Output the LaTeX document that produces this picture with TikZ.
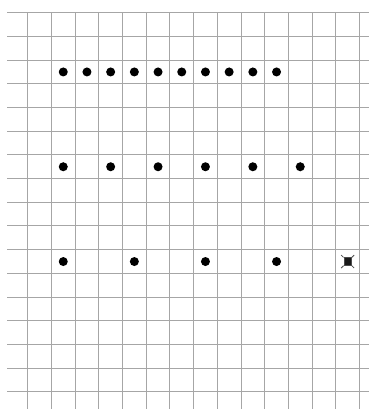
\documentclass[tikz,border=0pt]{standalone}
\usepackage{tikz}
\usetikzlibrary{shapes}
\usepackage{xcolor}

\begin{document}
\begin{tikzpicture}[x=0.5cm, y=0.5cm]
\tikzstyle{gridline} = [draw=black!35, line width=0.6pt]
\tikzstyle{dot} = [circle, fill=black, inner sep=0pt, minimum size=0.19cm]
\tikzstyle{marker} = [rectangle, fill=black!90, draw=black!70, inner sep=0pt, minimum size=0.16cm]

\useasboundingbox [fill=white] (-1.169,0.536) rectangle (14.401,-16.722);
\draw [gridline, step=1] (-0.873,0) grid (14.401,-16.722);

% first row
\node [dot] (a1) at (1.5,-2.5) {};
\node [dot] (a2) at (2.5,-2.5) {};
\node [dot] (a3) at (3.5,-2.5) {};
\node [dot] (a4) at (4.5,-2.5) {};
\node [dot] (a5) at (5.5,-2.5) {};
\node [dot] (a6) at (6.5,-2.5) {};
\node [dot] (a7) at (7.5,-2.5) {};
\node [dot] (a8) at (8.5,-2.5) {};
\node [dot] (a9) at (9.5,-2.5) {};
\node [dot] (a10) at (10.5,-2.5) {};

% second row
\node [dot] (b1) at (1.5,-6.5) {};
\node [dot] (b2) at (3.5,-6.5) {};
\node [dot] (b3) at (5.5,-6.5) {};
\node [dot] (b4) at (7.5,-6.5) {};
\node [dot] (b5) at (9.5,-6.5) {};
\node [dot] (b6) at (11.5,-6.5) {};

% third row
\node [dot] (c1) at (1.5,-10.5) {};
\node [dot] (c2) at (4.5,-10.5) {};
\node [dot] (c3) at (7.5,-10.5) {};
\node [dot] (c4) at (10.5,-10.5) {};
\node [marker] (c5) at (13.5,-10.5) {};
\draw [black!70, line width=0.5pt] (c5.north west) -- +(-0.05cm,0.05cm);
\draw [black!70, line width=0.5pt] (c5.north east) -- +(0.05cm,0.05cm);
\draw [black!70, line width=0.5pt] (c5.south west) -- +(-0.05cm,-0.05cm);
\draw [black!70, line width=0.5pt] (c5.south east) -- +(0.05cm,-0.05cm);
\end{tikzpicture}
\end{document}
